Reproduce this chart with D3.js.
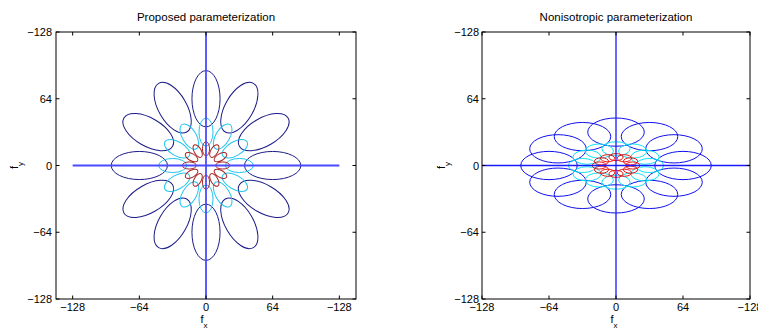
<!DOCTYPE html>
<html>
<head>
<meta charset="utf-8">
<script src="https://cdn.jsdelivr.net/npm/d3@7"></script>
<style>
  body { margin: 0; background: #fff; }
  svg { display: block; font-family: "Liberation Sans", Arial, sans-serif; }
</style>
</head>
<body>
<svg id="chart" width="758" height="331"></svg>
<script>
// filter bank: 12 orientations x 3 scales
const orientations = [0, 30, 60, 90, 120, 150, 180, 210, 240, 270, 300, 330];
const centerFreq = [64, 32, 16];          // radial centre frequency per scale
const radialHalf = [27, 13.5, 6.75];      // half bandwidth along the radial direction
const angularHalf = [13.5, 6.75, 3.4];    // half bandwidth across it
const verticalSquash = 0.5;               // nonisotropic: fy centres are squashed

const leftColors = ["#1c1c88", "#22c4ee", "#a82424"];
const rightColors = ["#1010ee", "#10e4f4", "#f01010"];

const tickValues = [-128, -64, 0, 64, 128];
const xTickLabels = ["\u2212128", "\u221264", "0", "64", "\u2212128"];
const yTickLabels = ["\u2212128", "\u221264", "0", "64", "\u2212128"]; // by value -128..128

const svg = d3.select("#chart");

function panel(opts) {
  const x = d3.scaleLinear().domain(opts.xDomain).range([opts.left, opts.right]);
  const y = d3.scaleLinear().domain([-128, 128]).range([299, 32]);
  const g = svg.append("g");
  const k = x(1) - x(0);

  // ellipses
  centerFreq.forEach((f, s) => {
    orientations.forEach(deg => {
      const t = deg * Math.PI / 180;
      let cx, cy, rot;
      if (opts.iso) {
        cx = f * Math.cos(t); cy = f * Math.sin(t); rot = -deg;
      } else {
        cx = f * Math.cos(t); cy = f * verticalSquash * Math.sin(t); rot = 0;
      }
      g.append("ellipse")
        .attr("cx", 0).attr("cy", 0)
        .attr("rx", radialHalf[s] * k).attr("ry", angularHalf[s] * k)
        .attr("transform", `translate(${x(cx)},${y(cy)}) rotate(${rot})`)
        .attr("fill", "none")
        .attr("stroke", opts.colors[s])
        .attr("stroke-width", 1);
    });
  });

  // cross lines
  g.append("line")
    .attr("x1", x(-128)).attr("x2", x(128)).attr("y1", y(0)).attr("y2", y(0))
    .attr("stroke", opts.lineColor).attr("stroke-width", opts.lineWidth);
  g.append("line")
    .attr("x1", x(0)).attr("x2", x(0)).attr("y1", y(-128)).attr("y2", y(128))
    .attr("stroke", opts.lineColor).attr("stroke-width", opts.lineWidth);

  // box
  g.append("rect")
    .attr("x", opts.left).attr("y", 32)
    .attr("width", opts.right - opts.left).attr("height", 267)
    .attr("fill", "none").attr("stroke", "#000").attr("stroke-width", 1);

  // ticks on all sides, inward
  const tl = 3.5;
  tickValues.forEach(v => {
    g.append("line").attr("x1", x(v)).attr("x2", x(v)).attr("y1", 299).attr("y2", 299 - tl).attr("stroke", "#000");
    g.append("line").attr("x1", x(v)).attr("x2", x(v)).attr("y1", 32).attr("y2", 32 + tl).attr("stroke", "#000");
    g.append("line").attr("y1", y(v)).attr("y2", y(v)).attr("x1", opts.left).attr("x2", opts.left + tl).attr("stroke", "#000");
    g.append("line").attr("y1", y(v)).attr("y2", y(v)).attr("x1", opts.right).attr("x2", opts.right - tl).attr("stroke", "#000");
  });

  // tick labels
  g.selectAll(".xt").data(tickValues).enter().append("text")
    .attr("x", d => x(d)).attr("y", 311)
    .attr("text-anchor", "middle").attr("font-size", 11)
    .text((d, i) => xTickLabels[i]);
  g.selectAll(".yt").data(tickValues).enter().append("text")
    .attr("x", opts.left - opts.yLabelGap).attr("y", d => y(d) + 4)
    .attr("text-anchor", "end").attr("font-size", 11)
    .text((d, i) => yTickLabels[i]);

  // title
  const mid = (opts.left + opts.right) / 2;
  g.append("text").attr("x", mid).attr("y", 21)
    .attr("text-anchor", "middle").attr("font-size", 11.5)
    .text(opts.title);

  // axis labels
  const fx = g.append("text").attr("x", mid - 2).attr("y", 323)
    .attr("text-anchor", "middle").attr("font-size", 11);
  fx.append("tspan").text("f");
  fx.append("tspan").attr("dy", 5).attr("font-size", 8).text("x");

  const fy = g.append("text")
    .attr("transform", `translate(${opts.fyX},${y(0)}) rotate(-90)`)
    .attr("text-anchor", "middle").attr("font-size", 11);
  fy.append("tspan").text("f");
  fy.append("tspan").attr("dy", 5).attr("font-size", 8).text("y");
}

panel({
  title: "Proposed parameterization",
  xDomain: [-144, 144], left: 56, right: 356,
  iso: true, colors: leftColors,
  lineColor: "#4a4aff", lineWidth: 1.8,
  yLabelGap: 4, fyX: 18
});

panel({
  title: "Nonisotropic parameterization",
  xDomain: [-128, 128], left: 482, right: 750,
  iso: false, colors: rightColors,
  lineColor: "#1a1aff", lineWidth: 1.3,
  yLabelGap: 3, fyX: 445
});
</script>
</body>
</html>
